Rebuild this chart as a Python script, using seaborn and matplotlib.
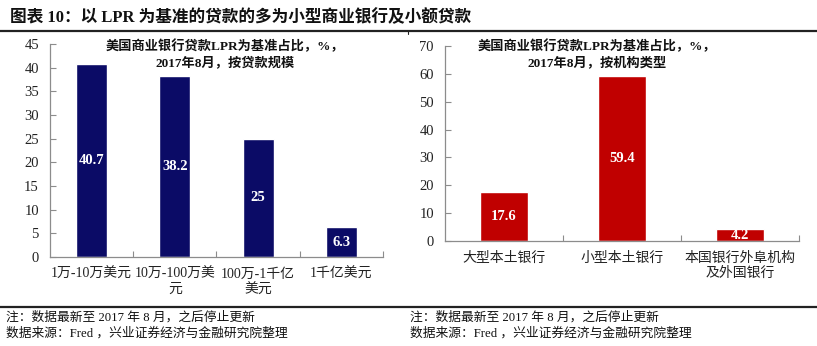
import matplotlib
matplotlib.use("Agg")
import matplotlib.pyplot as plt
import seaborn as sns
import pandas as pd

# Share of US commercial-bank loans priced off the prime rate (LPR), Aug 2017
size_categories = ["1万-10万美元", "10万-100万美\n元", "100万-1千亿\n美元", "1千亿美元"]
size_values = [40.7, 38.2, 25, 6.3]

bank_categories = ["大型本土银行", "小型本土银行", "本国银行外阜机构\n及外国银行"]
bank_values = [17.6, 59.4, 4.2]

left_title = "美国商业银行贷款LPR为基准占比，%，\n2017年8月，按贷款规模"
right_title = "美国商业银行贷款LPR为基准占比，%，\n2017年8月，按机构类型"
fig_title = "图表 10：以 LPR 为基准的贷款的多为小型商业银行及小额贷款"
note_text = "注：数据最新至 2017 年 8 月，之后停止更新"
source_text = "数据来源：Fred ，兴业证券经济与金融研究院整理"

sns.set_theme(style="white")
FAMILY = ["Liberation Serif", "Noto Sans CJK SC", "DejaVu Sans"]
plt.rcParams["font.family"] = FAMILY

W, H = 817, 346
fig = plt.figure(figsize=(W / 100, H / 100), dpi=100)


def px_axes(x0, y_top, x1, y_bottom):
    return fig.add_axes([x0 / W, (H - y_bottom) / H, (x1 - x0) / W, (y_bottom - y_top) / H])


def draw_panel(ax, cats, vals, color, width, ymax, ystep, title, title_px):
    df = pd.DataFrame({"cat": cats, "val": vals})
    sns.barplot(data=df, x="cat", y="val", color=color, saturation=1,
                width=width, ax=ax)
    ax.bar_label(ax.containers[0], labels=[f"{v:g}" for v in vals],
                 label_type="center", color="white", fontsize=10.5,
                 fontweight="bold")
    ax.set_ylim(0, ymax)
    ax.set_xlim(-0.5, len(cats) - 0.5)
    ax.set_yticks(range(0, ymax + 1, ystep))
    ax.set_xlabel("")
    ax.set_ylabel("")
    for s in ["top", "right"]:
        ax.spines[s].set_visible(False)
    for s in ["left", "bottom"]:
        ax.spines[s].set_color("#8c8c8c")
        ax.spines[s].set_linewidth(0.9)
    ax.tick_params(axis="y", direction="in", length=4, color="#8c8c8c",
                   width=0.8, labelsize=10.5, pad=8, left=True)
    ax.tick_params(axis="x", length=0, labelsize=10, pad=8)
    ax.set_xticks([i + 0.5 for i in range(len(cats))], minor=True)
    ax.tick_params(axis="x", which="minor", direction="in", length=4,
                   color="#8c8c8c", width=0.8, bottom=True)
    for lab in ax.get_xticklabels() + ax.get_yticklabels():
        lab.set_color("#222222")
    fig.text(title_px[0] / W, 1 - title_px[1] / H, title, ha="center",
             va="top", fontsize=9.5, fontweight="bold", linespacing=1.3,
             color="#111111")


ax_l = px_axes(50, 44, 383, 257)
draw_panel(ax_l, size_categories, size_values, "#0b0b66", 0.375, 45, 5,
           left_title, (225, 40))

ax_r = px_axes(445, 46, 799, 241)
draw_panel(ax_r, bank_categories, bank_values, "#c00000", 0.4, 70, 10,
           right_title, (597, 40))

# Header, rules and footnotes
fig.text(10 / W, 1 - 18 / H, fig_title, ha="left", va="center",
         fontsize=12, fontweight="bold", color="#111111")
fig.add_artist(plt.Line2D([0, 1], [1 - 31 / H] * 2, color="#222222", lw=1.6))
fig.add_artist(plt.Line2D([408 / W] * 2, [1 - 31 / H, 1 - 34 / H],
                          color="#222222", lw=0.8))
fig.add_artist(plt.Line2D([0, 1], [1 - 307 / H] * 2, color="#222222", lw=1.6))
for x0 in (6, 410):
    fig.text(x0 / W, 1 - 317 / H, note_text, ha="left", va="center",
             fontsize=9.2, color="#111111")
    fig.text(x0 / W, 1 - 333 / H, source_text, ha="left", va="center",
             fontsize=9.2, color="#111111")

fig.savefig("out.png", dpi=100)
